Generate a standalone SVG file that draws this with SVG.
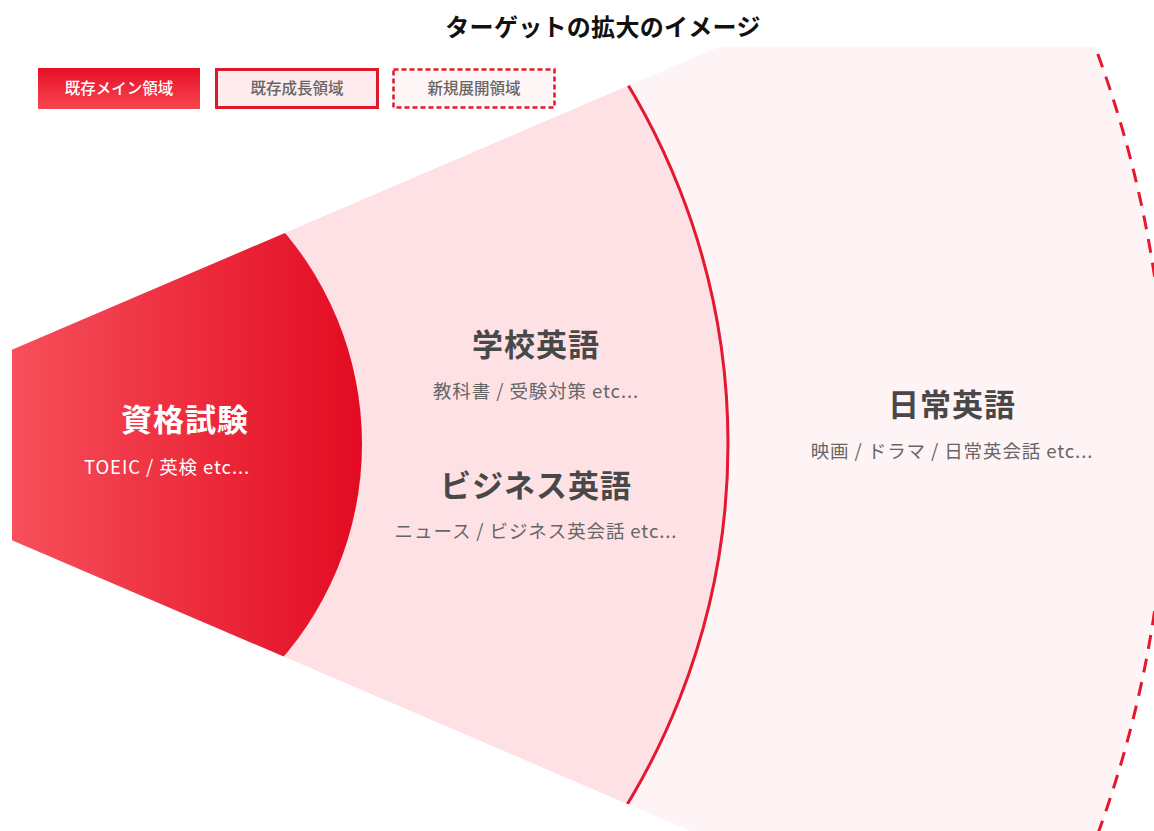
<svg xmlns="http://www.w3.org/2000/svg" width="1154" height="831" viewBox="0 0 1154 831">
  <defs>
    <style>
      .jp { font-family: "Noto Sans CJK JP", "Noto Sans", sans-serif; }
      .title { font-size: 24px; font-weight: 700; fill: #111; letter-spacing: 0.3px; }
      .legend { font-size: 15.5px; font-weight: 500; }
      .head { font-size: 31px; font-weight: 700; fill: #484848; letter-spacing: 1px; }
      .sub { font-size: 18.5px; font-weight: 400; fill: #666; letter-spacing: 0.9px; }
      .arc { fill: none; stroke: #e4182e; stroke-width: 3; }
    </style>
    <linearGradient id="gInner" x1="12" y1="0" x2="362" y2="0" gradientUnits="userSpaceOnUse">
      <stop offset="0" stop-color="#f7505b"/>
      <stop offset="1" stop-color="#e30b22"/>
    </linearGradient>
    <linearGradient id="gLegend" x1="0" y1="0" x2="0" y2="1">
      <stop offset="0" stop-color="#e60f28"/>
      <stop offset="1" stop-color="#f8464f"/>
    </linearGradient>
    <clipPath id="wedge">
      <rect x="12" y="47" width="1142" height="784"/>
    </clipPath>
    <clipPath id="wedgeShape">
      <polygon points="-210,445 1400,-245 1400,1135"/>
    </clipPath>
  </defs>
  <rect width="1154" height="831" fill="#ffffff"/>

  <text class="jp title" x="603" y="36" text-anchor="middle">ターゲットの拡大のイメージ</text>

  <g id="legend">
    <g id="legend-main">
      <rect x="38" y="68" width="162" height="41" fill="url(#gLegend)"/>
      <text class="jp legend" x="119" y="94" text-anchor="middle" fill="#ffffff">既存メイン領域</text>
    </g>
    <g id="legend-growth">
      <rect x="216.5" y="69.5" width="161" height="38" fill="#fdebee" stroke="#e0182c" stroke-width="3"/>
      <text class="jp legend" x="297" y="94" text-anchor="middle" fill="#666">既存成長領域</text>
    </g>
    <g id="legend-new">
      <rect x="393.5" y="69.5" width="161" height="38" fill="#fef5f6" stroke="#e0182c" stroke-width="2.5" stroke-dasharray="5 3"/>
      <text class="jp legend" x="474" y="94" text-anchor="middle" fill="#666">新規展開領域</text>
    </g>
  </g>

  <g clip-path="url(#wedge)">
    <g clip-path="url(#wedgeShape)">
      <g id="outer">
        <circle cx="34" cy="444" r="1133" fill="#fef4f5"/>
      </g>
      <g id="middle">
        <circle cx="34" cy="444" r="694" fill="#fde1e4"/>
      </g>
      <g id="inner">
        <circle cx="34" cy="444" r="328" fill="url(#gInner)"/>
      </g>
      <g id="connectors">
        <circle class="arc" cx="34" cy="444" r="694"/>
        <circle class="arc" cx="34" cy="444" r="1133" stroke-dasharray="14 10"/>
      </g>
    </g>
  </g>

  <g id="node-shikaku">
    <text class="jp head" x="185" y="431" text-anchor="middle" style="fill:#ffffff">資格試験</text>
    <text class="jp sub" x="167" y="474" text-anchor="middle" style="fill:#ffffff">TOEIC / 英検 etc...</text>
  </g>
  <g id="node-gakko">
    <text class="jp head" x="536" y="356" text-anchor="middle">学校英語</text>
    <text class="jp sub" x="536" y="398" text-anchor="middle">教科書 / 受験対策 etc...</text>
  </g>
  <g id="node-business">
    <text class="jp head" x="536" y="497" text-anchor="middle">ビジネス英語</text>
    <text class="jp sub" x="536" y="538" text-anchor="middle">ニュース / ビジネス英会話 etc...</text>
  </g>
  <g id="node-nichijo">
    <text class="jp head" x="952" y="416" text-anchor="middle">日常英語</text>
    <text class="jp sub" x="952" y="458" text-anchor="middle">映画 / ドラマ / 日常英会話 etc...</text>
  </g>
</svg>
